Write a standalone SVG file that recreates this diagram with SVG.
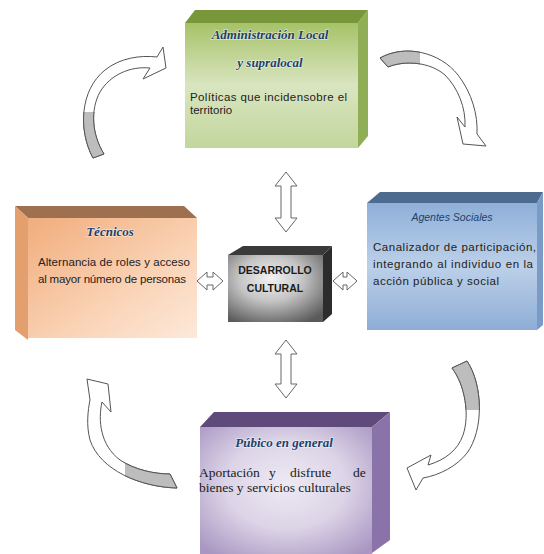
<svg xmlns="http://www.w3.org/2000/svg" width="544" height="554" viewBox="0 0 544 554">
<defs>
<linearGradient id="gGreen" x1="0" y1="0" x2="0" y2="1"><stop offset="0" stop-color="#a6c268"/><stop offset="0.5" stop-color="#d9e5c0"/><stop offset="1" stop-color="#c2d69c"/></linearGradient>
<linearGradient id="gBlue" x1="0" y1="0" x2="0" y2="1"><stop offset="0" stop-color="#8fb0d9"/><stop offset="0.5" stop-color="#bcd0e9"/><stop offset="1" stop-color="#8eadd6"/></linearGradient>
<linearGradient id="gOrange" x1="0" y1="0" x2="1" y2="1"><stop offset="0" stop-color="#f1ad7c"/><stop offset="0.6" stop-color="#fad3b6"/><stop offset="1" stop-color="#fde9da"/></linearGradient>
<radialGradient id="gPurple" cx="0.5" cy="0.45" r="0.7"><stop offset="0" stop-color="#eeeaf4"/><stop offset="0.5" stop-color="#dcd4e7"/><stop offset="1" stop-color="#a996c2"/></radialGradient>
<radialGradient id="gGray" cx="0.45" cy="0.35" r="0.75"><stop offset="0" stop-color="#f2f2f2"/><stop offset="0.45" stop-color="#c4c4c4"/><stop offset="1" stop-color="#5a5a5a"/></radialGradient>
<path id="arr1" d="M 93,158 C 78,130 80,90 105,70 C 120,58 140,55 157,57 L 163,47 L 166,68 L 143,79 L 150,68 C 130,66 110,75 100,92 C 90,110 92,135 104,154 Z"/>
<path id="arr2" d="M 380,58 C 405,44 440,52 458,75 C 472,93 478,115 477,134 L 486,146 L 463,144 L 457,117 L 465,127 C 466,108 458,88 445,75 C 430,62 405,60 388,67 Z"/>
<path id="arr3" d="M 452,368 L 467,361 C 483,385 484,430 467,453 C 457,466 440,475 423,478 L 416,490 L 407,468 L 431,455 L 428,465 C 445,460 458,450 463,435 C 470,415 465,385 452,368 Z"/>
<path id="arr4" d="M 177,488 C 140,487 100,470 90,440 C 86,425 88,410 90,400 L 87,379 L 108,384 L 111,412 L 102,402 C 98,420 100,445 120,460 C 135,470 155,474 170,474 Z"/>
<clipPath id="c1"><rect x="70" y="112" width="50" height="60"/></clipPath>
<clipPath id="c2"><rect x="370" y="35" width="50" height="40"/></clipPath>
<clipPath id="c3"><rect x="440" y="350" width="50" height="60"/></clipPath>
<clipPath id="c4"><rect x="125" y="450" width="60" height="50"/></clipPath>
</defs>
<style>
.ttl{font-family:"Liberation Serif",serif;font-style:italic;font-weight:bold;font-size:13px;fill:#1f3f6b;text-anchor:middle;stroke:#ffffff;stroke-width:1.5;stroke-opacity:0.5;paint-order:stroke}
.sans{font-family:"Liberation Sans",Arial,sans-serif;font-size:11.5px;fill:#222}
.serif{font-family:"Liberation Serif",serif;font-size:13.5px;fill:#1a1a1a}
.dbl{fill:#ffffff;stroke:#666;stroke-width:1}
.cw{fill:#ffffff;stroke:#555;stroke-width:1}
.cg{fill:#bdbdbd;stroke:#555;stroke-width:1}
</style>
<g id="connectors">
<polygon class="dbl" points="286,172 297,186 291,186 291,218 297,218 286,232 275,218 281,218 281,186 275,186"/>
<polygon class="dbl" points="286,340 297,354 291,354 291,384 297,384 286,398 275,384 281,384 281,354 275,354"/>
<polygon class="dbl" points="197,281 207,272 207,277 213,277 213,272 223,281 213,290 213,285 207,285 207,290"/>
<polygon class="dbl" points="333,281 343,272 343,277 347,277 347,272 357,281 347,290 347,285 343,285 343,290"/>
<use href="#arr1" class="cw"/><use href="#arr1" class="cg" clip-path="url(#c1)"/>
<use href="#arr2" class="cw"/><use href="#arr2" class="cg" clip-path="url(#c2)"/>
<use href="#arr3" class="cw"/><use href="#arr3" class="cg" clip-path="url(#c3)"/>
<use href="#arr4" class="cw"/><use href="#arr4" class="cg" clip-path="url(#c4)"/>
</g>
<g id="admin">
<polygon points="185,23 195,10 368,10 358,23" fill="#78973b"/>
<polygon points="358,23 368,10 368,136 358,148" fill="#90ae55"/>
<rect x="185" y="23" width="173" height="125" fill="url(#gGreen)"/>
<text class="ttl" x="270" y="39">Administración Local</text>
<text class="ttl" x="270" y="67">y supralocal</text>
<text class="sans" x="190" y="101" textLength="157" lengthAdjust="spacing">Políticas que incidensobre el</text>
<text class="sans" x="190" y="114">territorio</text>
</g>
<g id="tecnicos">
<polygon points="28,218 15,206 184,206 197,218" fill="#9f7050"/>
<polygon points="28,218 15,206 15,330 28,340" fill="#e39f6e"/>
<rect x="28" y="218" width="169" height="120" fill="url(#gOrange)"/>
<text class="ttl" x="110" y="236">Técnicos</text>
<text class="sans" x="38" y="266" textLength="152" lengthAdjust="spacing">Alternancia de roles y acceso</text>
<text class="sans" x="38" y="283" textLength="148" lengthAdjust="spacing">al mayor número de personas</text>
</g>
<g id="agentes">
<polygon points="367,203 380,192 543,192 537,203" fill="#4d6b8f"/>
<polygon points="537,203 543,192 543,325 537,330" fill="#7a9bc5"/>
<rect x="367" y="203" width="170" height="127" fill="url(#gBlue)"/>
<text x="452" y="221" style="font-family:'Liberation Sans',Arial,sans-serif;font-style:italic;font-size:10.5px;fill:#1f3f6b;text-anchor:middle">Agentes Sociales</text>
<text class="sans" x="373" y="251" textLength="163" lengthAdjust="spacing">Canalizador de participación,</text>
<text class="sans" x="373" y="268" textLength="160" lengthAdjust="spacing">integrando al individuo en la</text>
<text class="sans" x="373" y="285" textLength="126" lengthAdjust="spacing">acción pública y social</text>
</g>
<g id="publico">
<polygon points="200,427 214,412 390,412 372,427" fill="#5f4a7b"/>
<polygon points="372,427 390,412 390,540 372,553" fill="#8a73a9"/>
<rect x="200" y="427" width="172" height="127" fill="url(#gPurple)"/>
<text class="ttl" x="284" y="447">Púbico en general</text>
<text class="serif" y="477"><tspan x="199">Aportación</tspan><tspan x="269">y</tspan><tspan x="290">disfrute</tspan><tspan x="353">de</tspan></text>
<text class="serif" x="199" y="492">bienes y servicios culturales</text>
</g>
<g id="desarrollo">
<polygon points="228,255 243,246 332,246 323,255" fill="#3a3a3a"/>
<polygon points="323,255 332,246 332,314 323,322" fill="#2c2c2c"/>
<rect x="228" y="255" width="95" height="67" fill="url(#gGray)"/>
<text x="275" y="274" style="font-family:'Liberation Sans',Arial,sans-serif;font-weight:bold;font-size:10.5px;fill:#1a1a1a;text-anchor:middle">DESARROLLO</text>
<text x="275" y="292" style="font-family:'Liberation Sans',Arial,sans-serif;font-weight:bold;font-size:10.5px;fill:#1a1a1a;text-anchor:middle">CULTURAL</text>
</g>
</svg>
